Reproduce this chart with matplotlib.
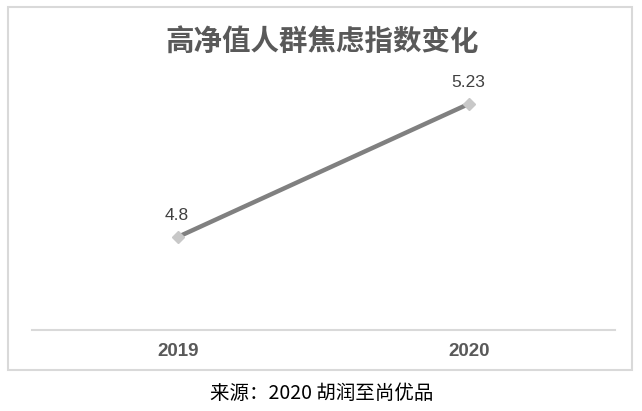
import matplotlib
matplotlib.use("Agg")
import matplotlib.pyplot as plt
from matplotlib.patches import Rectangle

plt.rcParams['font.family'] = ['Noto Sans CJK SC', 'DejaVu Sans']

years = ["2019", "2020"]
values = [4.8, 5.23]
title = "高净值人群焦虑指数变化"
source = "来源：2020 胡润至尚优品"

W, H = 642, 411
fig = plt.figure(figsize=(W / 100, H / 100), dpi=100)

# outer frame
fig.patches.append(Rectangle((8 / W, 1 - 370 / H), (632 - 8) / W, (370 - 7) / H,
                             transform=fig.transFigure, fill=False,
                             edgecolor="#d9d9d9", linewidth=1.5))

ax = fig.add_axes([32 / W, 1 - 330 / H, (615 - 32) / W, (330 - 82) / H])
x = [0, 1]
ax.plot(x, values, color="#808080", linewidth=3.2, solid_capstyle="butt",
        marker="D", markersize=6, markerfacecolor="#c8c8c8",
        markeredgecolor="#c8c8c8", zorder=3)
for xi, v in zip(x, values):
    ax.annotate(f"{v:g}", (xi, v), xytext=(-1, 10), textcoords="offset points",
                ha="center", va="bottom", fontsize=12.5, color="#404040",
                family=["Liberation Sans", "DejaVu Sans"])

ax.set_xlim(-0.5, 1.5)
ax.set_ylim(4.5, 5.3)
ax.set_yticks([])
ax.set_xticks(x)
ax.set_xticklabels(years, fontsize=13.5, fontweight="bold", color="#595959",
                   family=["Liberation Sans", "DejaVu Sans"])
ax.tick_params(axis="x", length=0, pad=9)
for s in ["top", "right", "left"]:
    ax.spines[s].set_visible(False)
ax.spines["bottom"].set_color("#d9d9d9")
ax.spines["bottom"].set_linewidth(1.5)
ax.patch.set_alpha(0)

fig.text(322 / W, 1 - 42 / H, title, ha="center", va="center", fontsize=20.5,
         fontweight="bold", color="#595959")
fig.text(322 / W, 1 - 393 / H, source, ha="center", va="center", fontsize=14,
         color="#000000")

fig.savefig("out.png", dpi=100)
